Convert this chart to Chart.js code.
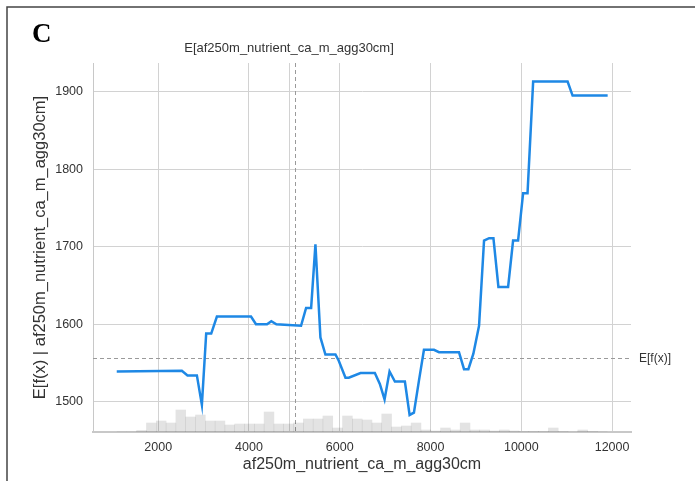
<!DOCTYPE html>
<html>
<head>
<meta charset="utf-8">
<script src="https://cdn.jsdelivr.net/npm/chart.js@4/dist/chart.umd.min.js"></script>
<style>
  body { margin: 0; background: #fff; }
  canvas { display: block; }
</style>
</head>
<body>
<canvas id="myChart" width="695" height="481"></canvas>
<script>
// partial dependence curve (x = feature value, y = expected prediction)
var pdX = [1086, 2521, 2645, 2852, 2962, 3057, 3168, 3293, 4044, 4154, 4397, 4492, 4603, 4875,
           5147, 5258, 5369, 5464, 5574, 5684, 5905, 5978, 6126, 6199, 6457, 6773, 6883, 6987,
           7097, 7215, 7435, 7539, 7634, 7744, 7855, 8076, 8186, 8627, 8738, 8834, 8944, 9069,
           9179, 9290, 9386, 9496, 9709, 9819, 9929, 10040, 10137, 10261, 11020, 11130, 11903];
var pdY = [1539, 1540, 1534, 1534, 1496, 1588, 1588, 1610, 1610, 1600, 1600, 1604, 1600, 1599,
           1598, 1621, 1621, 1703, 1583, 1561, 1561, 1553, 1531, 1531, 1537, 1537, 1523, 1503,
           1539, 1526, 1526, 1483, 1486, 1527, 1567, 1567, 1564, 1564, 1542, 1542, 1562, 1598,
           1708, 1711, 1711, 1648, 1648, 1708, 1708, 1769, 1769, 1913, 1913, 1895, 1895];

// histogram of the feature (bin centres and counts)
var binCenters = [1201, 1417, 1633, 1849, 2065, 2281, 2497, 2713, 2929, 3145, 3361, 3577, 3793,
                  4009, 4225, 4441, 4657, 4873, 5089, 5305, 5521, 5737, 5953, 6169, 6385, 6601,
                  6817, 7033, 7249, 7465, 7681, 7897, 8113, 8329, 8545, 8761, 8977, 9193, 9409,
                  9625, 9841, 10057, 10273, 10489, 10705, 10921, 11137, 11353, 11569, 11785];
var binCounts = [0, 0, 1.5, 9, 11, 9, 22, 15, 17, 11, 11, 7, 8, 8, 8, 20, 8, 8, 9, 13, 13, 16, 4,
                 16, 13, 12, 9, 18, 5, 6, 9, 2, 1, 4, 2, 9, 2, 2, 1, 2, 1, 0.5, 0.5, 0.5, 4, 0.5,
                 0, 2, 0.5, 0];

// axes
var xTicks = [2000, 4000, 6000, 8000, 10000, 12000];
var yTicks = [1500, 1600, 1700, 1800, 1900];
var expectedX = 5014;      // E[feature]
var expectedXTick = 4882;  // top axis tick
var expectedY = 1556;      // E[f(x)]
var featureName = 'af250m_nutrient_ca_m_agg30cm';

var lineData = pdX.map(function (x, i) { return { x: x, y: pdY[i] }; });
var histData = binCenters.map(function (x, i) { return { x: x, y: binCounts[i] }; });

var font = 'Liberation Sans, Arial, sans-serif';
var plain = function (v) { return String(v); };

/* dashed reference lines, label, frame and panel letter */
const extras = {
    id: 'extras',
    beforeDatasetsDraw(chart) {
        var ctx = chart.ctx, a = chart.chartArea;
        var xs = chart.scales.x, ys = chart.scales.y;
        ctx.save();
        ctx.strokeStyle = '#9a9a9a';
        ctx.lineWidth = 1;
        ctx.setLineDash([4, 3]);
        var px = Math.round(xs.getPixelForValue(expectedX)) + 0.5;
        ctx.beginPath(); ctx.moveTo(px, a.top); ctx.lineTo(px, a.bottom); ctx.stroke();
        var py = Math.round(ys.getPixelForValue(expectedY)) + 0.5;
        ctx.beginPath(); ctx.moveTo(a.left, py); ctx.lineTo(a.right, py); ctx.stroke();
        ctx.restore();
    },
    afterDraw(chart) {
        var ctx = chart.ctx, a = chart.chartArea;
        var ys = chart.scales.y;
        ctx.save();
        ctx.fillStyle = '#333';
        ctx.font = '12px ' + font;
        ctx.textBaseline = 'middle';
        ctx.textAlign = 'left';
        ctx.fillText('E[f(x)]', a.right + 8, ys.getPixelForValue(expectedY));

        ctx.fillStyle = '#000';
        ctx.font = 'bold 27px Liberation Serif, serif';
        ctx.textAlign = 'left';
        ctx.textBaseline = 'alphabetic';
        ctx.fillText('C', 32, 42);

        ctx.strokeStyle = '#444';
        ctx.lineWidth = 1.5;
        ctx.beginPath();
        ctx.moveTo(7, 481); ctx.lineTo(7, 7); ctx.lineTo(695, 7);
        ctx.stroke();
        ctx.restore();
    }
};

const config = {
    type: 'line',
    data: {
        datasets: [{
            label: 'pd',
            data: lineData,
            borderColor: '#1E88E5',
            borderWidth: 2.5,
            pointRadius: 0,
            tension: 0,
            fill: false,
            xAxisID: 'x',
            yAxisID: 'y',
            order: 1
        }, {
            type: 'bar',
            label: 'hist',
            data: histData,
            backgroundColor: 'rgba(0, 0, 0, 0.11)',
            borderWidth: 0,
            barPercentage: 1,
            categoryPercentage: 1,
            xAxisID: 'x',
            yAxisID: 'y2',
            order: 2
        }]
    },
    options: {
        responsive: false,
        animation: false,
        layout: { padding: { left: 8, right: 64, top: 10, bottom: 0 } },
        plugins: { legend: { display: false }, tooltip: { enabled: false } },
        scales: {
            x: {
                type: 'linear',
                position: 'bottom',
                min: 563, max: 12417,
                offset: false,
                afterBuildTicks: function (s) { s.ticks = xTicks.map(function (v) { return { value: v }; }); },
                afterFit: function (s) { s.height = 49; },
                grid: { color: '#d2d2d2', lineWidth: 1, drawTicks: false, offset: false },
                border: { display: true, color: '#c8c8c8', width: 2 },
                ticks: { color: '#333', font: { family: font, size: 12.5 }, padding: 8, maxRotation: 0, callback: plain },
                title: { display: true, text: featureName, color: '#333', font: { family: font, size: 16 }, padding: 7 }
            },
            x2: {
                type: 'linear',
                position: 'top',
                min: 563, max: 12417,
                offset: false,
                afterBuildTicks: function (s) { s.ticks = [{ value: expectedXTick }]; },
                afterFit: function (s) { s.height = 53; },
                grid: { color: '#d2d2d2', lineWidth: 1, drawTicks: false, offset: false },
                border: { display: false },
                ticks: {
                    color: '#333', font: { family: font, size: 13 }, padding: 7, maxRotation: 0,
                    callback: function () { return 'E[' + featureName + ']'; }
                }
            },
            y: {
                type: 'linear',
                position: 'left',
                min: 1461, max: 1937,
                afterBuildTicks: function (s) { s.ticks = yTicks.map(function (v) { return { value: v }; }); },
                afterFit: function (s) { s.width = 85; },
                grid: { color: '#d2d2d2', lineWidth: 1, drawTicks: false },
                border: { display: true, color: '#c8c8c8', width: 1 },
                ticks: { color: '#333', font: { family: font, size: 12.5 }, padding: 10, callback: plain },
                title: { display: true, text: 'E[f(x) | ' + featureName + ']', color: '#333', font: { family: font, size: 16.5 }, padding: 23 }
            },
            y2: {
                type: 'linear',
                display: false,
                min: 0, max: 369
            }
        }
    },
    plugins: [extras]
};

const myChart = new Chart(document.getElementById('myChart'), config);
</script>
</body>
</html>
